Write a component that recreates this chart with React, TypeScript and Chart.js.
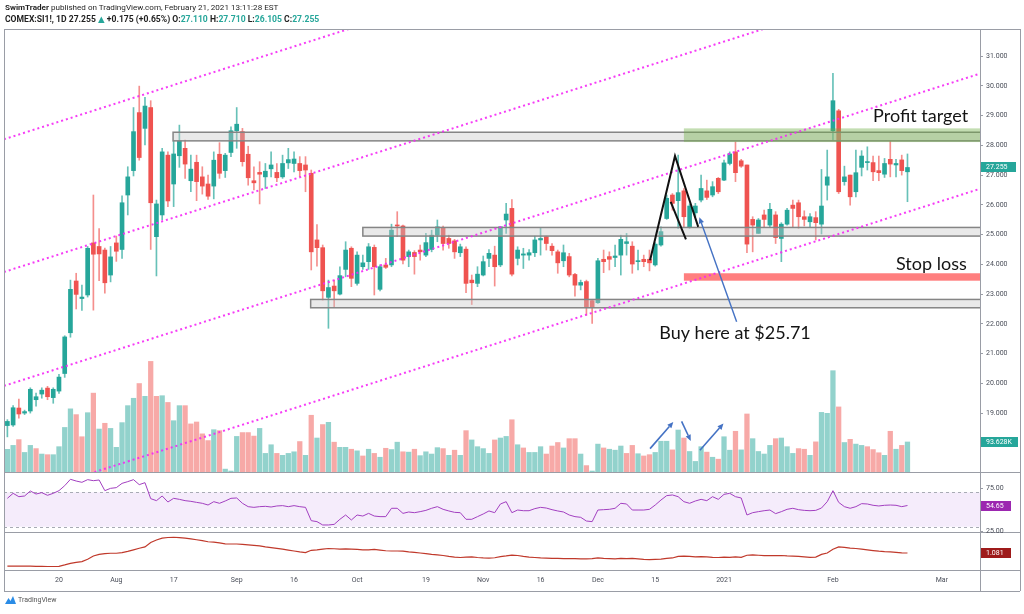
import React, { useEffect, useRef } from "react";
import { Chart, registerables } from "chart.js";

Chart.register(...registerables);

// ---------------- data (COMEX:SI1!, 1D) ----------------
const OPEN = [
  18.58, 18.60, 19.17, 19.00, 19.07, 19.45, 19.64, 19.84, 19.52, 19.74,
  20.33, 21.70, 23.44, 22.85, 22.97, 24.72, 24.60, 24.48, 23.64, 24.72,
  24.50, 26.33, 27.15, 29.10, 28.57, 29.27, 24.93, 25.66, 27.67, 26.70,
  27.65, 27.90, 26.81, 27.43, 26.94, 26.70, 26.63, 27.70, 27.15, 27.76,
  28.49, 28.46, 27.70, 26.81, 27.09, 26.94, 27.21, 27.09, 26.94, 27.41,
  27.39, 27.39, 27.34, 27.06, 24.82, 24.56, 22.89, 23.27, 23.00, 23.83,
  24.54, 23.36, 23.92, 24.09, 24.57, 23.16, 23.98, 23.98, 25.32, 25.29,
  24.26, 24.40, 24.48, 24.31, 24.50, 24.98, 25.24, 24.87, 24.79, 24.39,
  24.51, 23.47, 23.36, 23.64, 24.20, 24.31, 23.98, 25.49, 25.88, 24.20,
  24.31, 24.31, 24.39, 24.82, 24.93, 24.61, 24.42, 24.12, 24.26, 23.66,
  23.30, 23.42, 22.78, 22.71, 24.17, 24.26, 24.23, 24.31, 24.70, 24.61,
  24.09, 24.17, 24.17, 23.98, 24.65, 25.54, 26.33, 26.14, 26.47, 25.26,
  25.73, 26.16, 26.47, 26.33, 26.89, 26.83, 27.39, 27.78, 27.48, 27.34,
  25.51, 25.04, 25.66, 25.32, 25.66, 24.87, 25.35, 25.99, 26.07, 25.60,
  25.43, 25.57, 25.35, 26.66, 28.49, 29.16, 26.78, 27.00, 26.44, 27.26,
  27.42, 27.42, 27.15, 27.03, 27.53, 27.34, 27.51, 27.11,
];
const HIGH = [
  18.78, 19.25, 19.47, 19.10, 19.85, 19.67, 19.85, 19.90, 19.85, 20.30,
  21.60, 23.47, 23.70, 23.30, 24.60, 26.33, 25.20, 24.55, 24.60, 24.95,
  26.30, 27.28, 29.27, 29.99, 29.61, 29.50, 26.16, 27.90, 27.78, 28.15,
  28.68, 28.18, 27.67, 27.67, 27.28, 27.00, 27.78, 28.09, 27.73, 28.62,
  29.27, 28.57, 27.97, 27.28, 27.45, 27.39, 27.78, 27.39, 27.67, 27.90,
  27.78, 27.62, 27.62, 27.17, 25.34, 24.65, 23.47, 23.47, 23.92, 24.76,
  24.59, 24.42, 24.31, 24.70, 24.65, 23.98, 24.20, 25.35, 25.77, 25.32,
  24.48, 24.46, 24.65, 25.04, 25.15, 25.49, 25.29, 24.98, 24.84, 24.68,
  24.59, 23.64, 23.92, 24.28, 24.50, 24.61, 25.26, 26.05, 26.18, 24.59,
  24.54, 24.50, 24.95, 25.21, 24.95, 24.70, 24.48, 24.65, 24.37, 23.70,
  23.47, 23.47, 22.80, 24.20, 24.48, 24.42, 24.65, 24.98, 25.04, 24.76,
  24.48, 24.31, 24.48, 24.73, 25.26, 26.33, 26.38, 27.67, 26.55, 26.03,
  26.05, 27.00, 26.83, 26.78, 26.92, 27.50, 27.78, 28.12, 27.53, 27.34,
  25.60, 25.54, 25.82, 26.05, 25.77, 25.40, 25.88, 26.16, 26.16, 25.80,
  25.71, 25.77, 27.19, 27.84, 30.42, 29.21, 27.30, 27.00, 27.84, 27.82,
  27.95, 27.64, 27.64, 27.56, 28.15, 27.53, 27.67, 27.71,
];
const LOW = [
  18.20, 18.55, 18.83, 18.95, 19.00, 19.23, 19.50, 19.45, 19.33, 19.66,
  20.20, 21.55, 22.50, 22.45, 22.90, 22.46, 23.45, 23.03, 23.41, 24.10,
  24.20, 25.66, 26.97, 27.50, 28.01, 24.50, 23.61, 25.50, 25.94, 25.94,
  27.26, 26.89, 26.44, 26.14, 26.36, 26.18, 26.20, 26.89, 26.92, 27.62,
  27.90, 27.30, 26.66, 26.50, 26.03, 26.55, 26.94, 26.78, 26.89, 27.22,
  27.11, 26.94, 26.44, 23.81, 23.94, 22.80, 21.85, 22.57, 22.97, 23.58,
  23.25, 23.30, 23.83, 23.83, 22.97, 23.11, 23.86, 23.92, 24.93, 24.01,
  23.92, 23.67, 24.14, 24.26, 24.42, 24.76, 24.48, 24.54, 24.20, 24.26,
  23.05, 22.65, 23.25, 23.61, 23.92, 23.27, 23.92, 25.04, 23.61, 23.98,
  23.86, 24.14, 24.26, 24.31, 24.48, 24.31, 23.70, 23.92, 23.58, 22.93,
  23.14, 22.29, 22.01, 22.69, 23.72, 23.81, 23.92, 23.64, 24.31, 23.70,
  23.81, 23.92, 23.78, 23.94, 24.61, 25.51, 25.82, 25.21, 25.26, 25.21,
  25.60, 26.10, 26.18, 26.27, 26.38, 26.81, 27.34, 26.78, 27.26, 24.39,
  24.42, 25.04, 25.26, 25.26, 24.70, 24.09, 25.32, 25.26, 25.21, 25.29,
  25.26, 24.82, 25.02, 26.16, 28.18, 26.38, 26.66, 25.99, 26.27, 26.97,
  27.17, 26.81, 26.81, 26.92, 26.94, 26.94, 27.00, 26.105,
];
const CLOSE = [
  18.72, 19.18, 18.97, 19.05, 19.80, 19.55, 19.77, 19.55, 19.80, 20.21,
  21.56, 23.16, 22.99, 22.90, 24.54, 24.34, 24.35, 23.38, 24.25, 24.44,
  26.07, 26.94, 28.46, 27.59, 29.32, 26.07, 26.03, 27.78, 26.13, 27.71,
  28.15, 27.37, 27.20, 26.78, 26.63, 26.29, 27.50, 27.06, 27.67, 28.49,
  28.71, 27.45, 26.91, 26.74, 27.03, 27.13, 27.34, 26.91, 27.39, 27.52,
  27.54, 27.15, 27.17, 24.42, 24.56, 23.11, 23.22, 23.11, 23.62, 24.48,
  23.53, 24.31, 24.05, 24.59, 23.92, 23.92, 23.90, 25.15, 25.29, 24.14,
  24.42, 24.26, 24.42, 24.73, 24.98, 25.26, 24.70, 24.70, 24.42, 24.59,
  23.36, 23.38, 23.67, 24.09, 24.37, 23.92, 25.26, 25.69, 23.67, 24.48,
  24.35, 24.39, 24.82, 24.87, 24.70, 24.46, 24.05, 24.39, 23.64, 23.30,
  23.39, 22.55, 22.55, 24.12, 24.09, 24.17, 24.28, 24.84, 24.76, 24.01,
  24.12, 24.09, 24.05, 24.68, 25.10, 26.22, 26.05, 26.41, 25.60, 25.96,
  25.96, 26.55, 26.25, 26.61, 26.44, 27.41, 27.71, 27.08, 27.30, 24.68,
  25.32, 25.49, 25.51, 25.85, 24.90, 25.35, 25.82, 25.88, 25.60, 25.51,
  25.60, 25.40, 25.96, 26.94, 29.50, 26.44, 26.94, 26.27, 27.08, 27.64,
  27.45, 27.11, 27.08, 27.39, 27.37, 27.39, 27.15, 27.255,
];
// volume, thousands of contracts
const VOLUME_K = [
  70.7, 83, 101, 61, 83, 73, 56, 54, 54, 79,
  139, 197, 179, 110, 185, 246, 134, 152, 136, 77,
  154, 207, 230, 276, 236, 345, 236, 238, 217, 160,
  207, 207, 150, 156, 119, 98, 132, 129, 9, 3,
  111, 123, 123, 112, 136, 58, 85, 58, 52, 58,
  63, 95, 52, 177, 106, 148, 155, 93, 77, 77,
  71, 66, 50, 71, 58, 46, 74, 70, 93, 63,
  62, 71, 51, 63, 56, 76, 73, 52, 68, 52,
  129, 100, 79, 73, 58, 100, 106, 111, 163, 85,
  75, 61, 61, 79, 56, 81, 92, 75, 104, 104,
  56, 20, 3, 87, 75, 71, 68, 81, 58, 83,
  57, 50, 54, 61, 96, 96, 69, 131, 106, 64,
  33, 79, 62, 46, 40, 110, 68, 127, 69, 181,
  104, 64, 56, 83, 104, 106, 79, 58, 73, 71,
  52, 94, 186, 183, 316, 203, 92, 102, 87, 83,
  79, 70, 60, 52, 127, 71, 83, 93.628,
];
const RSI = [
  63.0, 68.8, 64.9, 65.7, 71.5, 68.0, 69.6, 66.5, 68.8, 71.9,
  77.7, 85.1, 83.1, 81.6, 84.7, 83.5, 84.3, 71.9, 74.6, 75.4,
  80.4, 82.4, 84.7, 78.9, 81.2, 62.6, 60.3, 65.7, 58.7, 63.0,
  61.8, 60.3, 59.5, 58.3, 57.2, 55.2, 59.1, 57.2, 59.9, 63.0,
  63.4, 57.2, 53.3, 52.5, 53.3, 53.7, 52.9, 54.1, 54.5, 53.3,
  54.5, 53.3, 52.5, 37.0, 35.9, 32.0, 32.0, 32.7, 38.6, 43.6,
  37.8, 43.6, 42.4, 45.5, 42.4, 41.7, 41.7, 51.4, 51.4, 45.5,
  47.1, 46.3, 47.5, 49.0, 51.4, 53.3, 50.2, 48.3, 46.7, 46.3,
  38.6, 38.6, 41.7, 44.8, 48.3, 46.3, 56.4, 59.1, 46.3, 49.4,
  48.6, 48.6, 51.0, 52.5, 51.7, 49.8, 48.3, 47.1, 43.6, 41.7,
  40.9, 36.6, 35.9, 49.4, 49.8, 50.2, 51.4, 57.2, 56.4, 49.4,
  49.4, 49.4, 50.2, 55.2, 61.0, 66.1, 66.9, 64.9, 59.1, 57.2,
  59.9, 61.8, 60.3, 64.9, 61.8, 67.6, 68.8, 64.9, 63.4, 43.6,
  46.3, 47.5, 48.6, 49.4, 45.2, 47.5, 50.2, 51.4, 49.8, 49.0,
  48.6, 49.0, 51.7, 59.1, 71.9, 58.3, 53.3, 51.4, 53.3, 56.8,
  56.4, 54.9, 54.1, 54.9, 55.2, 54.9, 53.3, 54.65,
];
const ATR = [
  0.50, 0.50, 0.50, 0.50, 0.50, 0.49, 0.49, 0.48, 0.48, 0.49,
  0.55, 0.62, 0.66, 0.70, 0.80, 0.95, 1.02, 1.05, 1.07, 1.07,
  1.10, 1.15, 1.22, 1.29, 1.35, 1.55, 1.66, 1.74, 1.77, 1.78,
  1.76, 1.74, 1.71, 1.67, 1.63, 1.58, 1.56, 1.53, 1.49, 1.48,
  1.48, 1.46, 1.44, 1.42, 1.40, 1.35, 1.32, 1.29, 1.25, 1.21,
  1.17, 1.13, 1.10, 1.20, 1.22, 1.25, 1.28, 1.27, 1.25, 1.26,
  1.25, 1.24, 1.22, 1.22, 1.24, 1.21, 1.18, 1.17, 1.17, 1.16,
  1.13, 1.11, 1.08, 1.05, 1.02, 1.00, 0.97, 0.93, 0.90, 0.88,
  0.90, 0.91, 0.88, 0.86, 0.85, 0.87, 0.92, 0.95, 0.99, 0.97,
  0.93, 0.90, 0.88, 0.86, 0.85, 0.84, 0.84, 0.83, 0.83, 0.83,
  0.82, 0.82, 0.83, 0.86, 0.84, 0.83, 0.82, 0.84, 0.83, 0.84,
  0.82, 0.80, 0.79, 0.80, 0.81, 0.84, 0.86, 0.93, 0.94, 0.93,
  0.91, 0.92, 0.91, 0.89, 0.88, 0.90, 0.89, 0.91, 0.89, 0.98,
  1.00, 0.98, 0.96, 0.96, 0.96, 0.97, 0.95, 0.94, 0.93, 0.91,
  0.89, 0.90, 1.02, 1.08, 1.25, 1.35, 1.33, 1.30, 1.28, 1.25,
  1.22, 1.19, 1.16, 1.14, 1.13, 1.11, 1.09, 1.081,
];

// axis ticks
const X_TICK_INDEX = [9, 19, 29, 40, 50, 61, 73, 83, 93, 103, 113, 125, 144, 163];
const X_TICK_LABELS = ["20", "Aug", "17", "Sep", "16", "Oct", "19", "Nov", "16", "Dec", "15", "2021", "Feb", "Mar"];
const PRICE_TICKS = [19, 20, 21, 22, 23, 24, 25, 26, 27, 28, 29, 30, 31];
const RSI_TICKS = [75, 25];
const RSI_BAND = [70, 30];

// visible value ranges of each pane
const X_VIEW = [-0.59, 169.65];
const PRICE_VIEW = [17.02, 31.91];
const VOLUME_VIEW_K = [0, 1382];
const RSI_VIEW = [23.84, 93.6];
const ATR_VIEW = [0.325, 2.014];

// drawings (bar index / price)
const CHANNEL_AT_FIRST = [28.24, 23.78, 19.95, 16.08];
const CHANNEL_AT_LAST = [37.92, 33.46, 29.63, 25.76];
const GRAY_ZONE_FROM = [28.9, 62.0, 52.9];
const GRAY_ZONE_TOP = [28.44, 25.24, 22.82];
const GRAY_ZONE_BOTTOM = [28.15, 24.95, 22.54];
const TARGET_ZONE = [118.0, 28.57, 28.11];
const STOP_ZONE = [118.0, 23.7, 23.45];
const PATTERN_BARS = [112.1, 116.45, 120.5];
const PATTERN_PRICES = [24.14, 27.64, 25.26];
const PATTERN_INNER_BARS = [115.7, 118.36];
const PATTERN_INNER_PRICES = [26.1, 24.84];
const BUY_ARROW_BARS = [127.2, 120.7];
const BUY_ARROW_PRICES = [22.07, 25.58];
const VOL_ARROW_FROM_BAR = [112.1, 117.6, 120.8];
const VOL_ARROW_FROM_K = [73, 158, 68];
const VOL_ARROW_TO_BAR = [116.15, 119.2, 124.9];
const VOL_ARROW_TO_K = [156, 97, 151];
const NOTE_TEXT = ["Profit target", "Stop loss", "Buy here at $25.71"];
const NOTE_BAR = [151.0, 155.0, 113.7];
const NOTE_PRICE = [28.79, 23.81, 21.48];

// ---------------- layout / style ----------------
const PANE_HEIGHTS = [443, 60, 38];
const UP = "#26a69a";
const DOWN = "#ef5350";
const FRAME = "#9a9da6";
const AXIS_TEXT = "#4a4e59";
const AXIS_FONT = "7px Roboto";

function fullRange(view: number[], k: number) {
  const total = PANE_HEIGHTS.reduce((s, h) => s + h, 0);
  const top = PANE_HEIGHTS.slice(0, k).reduce((s, h) => s + h, 0);
  const h = PANE_HEIGHTS[k];
  const u = (view[1] - view[0]) / h;
  return { min: view[0] - (total - top - h) * u, max: view[1] + top * u };
}

function drawArrow(ctx: any, x1: number, y1: number, x2: number, y2: number, color: string, width: number, head: number) {
  const ang = Math.atan2(y2 - y1, x2 - x1);
  const bx = x2 - head * Math.cos(ang);
  const by = y2 - head * Math.sin(ang);
  ctx.save();
  ctx.strokeStyle = color;
  ctx.fillStyle = color;
  ctx.lineWidth = width;
  ctx.setLineDash([]);
  ctx.beginPath();
  ctx.moveTo(x1, y1);
  ctx.lineTo(bx, by);
  ctx.stroke();
  ctx.beginPath();
  ctx.moveTo(x2, y2);
  ctx.lineTo(bx + head * 0.45 * Math.sin(ang), by - head * 0.45 * Math.cos(ang));
  ctx.lineTo(bx - head * 0.45 * Math.sin(ang), by + head * 0.45 * Math.cos(ang));
  ctx.closePath();
  ctx.fill();
  ctx.restore();
}

function badge(ctx: any, x: number, y: number, w: number, color: string, text: string) {
  ctx.save();
  ctx.fillStyle = color;
  ctx.fillRect(x, Math.round(y) - 5, w, 10);
  ctx.fillStyle = "#ffffff";
  ctx.font = AXIS_FONT;
  ctx.textAlign = "left";
  ctx.textBaseline = "middle";
  ctx.fillText(text, x + 5, Math.round(y) + 0.5);
  ctx.restore();
}

const overlayPlugin = {
  id: "tvOverlay",
  beforeDatasetsDraw(chart: any) {
    const { ctx, chartArea: a, scales: s } = chart;
    const yr = s.yRsi;
    const t = yr.getPixelForValue(RSI_BAND[0]);
    const b = yr.getPixelForValue(RSI_BAND[1]);
    ctx.save();
    ctx.fillStyle = "rgba(176, 96, 226, 0.12)";
    ctx.fillRect(a.left, t, a.right - a.left, b - t);
    ctx.strokeStyle = "#a8abb4";
    ctx.lineWidth = 1;
    ctx.setLineDash([3, 3]);
    for (const v of RSI_BAND) {
      const y = Math.round(yr.getPixelForValue(v)) + 0.5;
      ctx.beginPath();
      ctx.moveTo(a.left, y);
      ctx.lineTo(a.right, y);
      ctx.stroke();
    }
    ctx.restore();
  },
  afterDatasetsDraw(chart: any) {
    const { ctx, chartArea: a, scales: s } = chart;
    const X = (v: number) => s.x.getPixelForValue(v);
    const P = (v: number) => s.y.getPixelForValue(v);
    const V = (v: number) => s.yVol.getPixelForValue(v);
    const mainBottom = a.top + PANE_HEIGHTS[0];
    ctx.save();
    ctx.beginPath();
    ctx.rect(a.left, a.top, a.right - a.left, mainBottom - a.top);
    ctx.clip();

    // support / resistance zones
    for (let k = 0; k < GRAY_ZONE_FROM.length; k++) {
      const x0 = X(GRAY_ZONE_FROM[k]);
      const y0 = P(GRAY_ZONE_TOP[k]);
      const y1 = P(GRAY_ZONE_BOTTOM[k]);
      ctx.fillStyle = "rgba(200, 200, 200, 0.4)";
      ctx.fillRect(x0, y0, a.right - x0 + 5, y1 - y0);
      ctx.strokeStyle = "#858585";
      ctx.lineWidth = 1.5;
      ctx.strokeRect(x0, y0, a.right - x0 + 10, y1 - y0);
    }
    // profit target zone
    {
      const x0 = X(TARGET_ZONE[0]);
      const y0 = P(TARGET_ZONE[1]);
      const y1 = P(TARGET_ZONE[2]);
      ctx.fillStyle = "rgba(112, 173, 71, 0.42)";
      ctx.fillRect(x0, y0, a.right - x0, y1 - y0);
    }
    // stop loss zone
    {
      const x0 = X(STOP_ZONE[0]);
      const y0 = P(STOP_ZONE[1]);
      const y1 = P(STOP_ZONE[2]);
      ctx.fillStyle = "rgba(255, 82, 82, 0.74)";
      ctx.fillRect(x0, y0, a.right - x0, y1 - y0);
    }
    // parallel channel
    const last = CLOSE.length - 1;
    ctx.strokeStyle = "rgba(245, 40, 245, 0.9)";
    ctx.lineWidth = 2;
    ctx.setLineDash([2, 3]);
    for (let k = 0; k < CHANNEL_AT_FIRST.length; k++) {
      const slope = (CHANNEL_AT_LAST[k] - CHANNEL_AT_FIRST[k]) / last;
      const xa = X_VIEW[0];
      const xb = X_VIEW[1];
      ctx.beginPath();
      ctx.moveTo(X(xa), P(CHANNEL_AT_FIRST[k] + slope * xa));
      ctx.lineTo(X(xb), P(CHANNEL_AT_FIRST[k] + slope * xb));
      ctx.stroke();
    }
    ctx.setLineDash([]);
    // pattern lines
    ctx.strokeStyle = "#111111";
    ctx.lineWidth = 2;
    ctx.beginPath();
    PATTERN_BARS.forEach((b, k) => {
      if (k === 0) ctx.moveTo(X(b), P(PATTERN_PRICES[k]));
      else ctx.lineTo(X(b), P(PATTERN_PRICES[k]));
    });
    ctx.stroke();
    ctx.beginPath();
    ctx.moveTo(X(PATTERN_INNER_BARS[0]), P(PATTERN_INNER_PRICES[0]));
    ctx.lineTo(X(PATTERN_INNER_BARS[1]), P(PATTERN_INNER_PRICES[1]));
    ctx.stroke();
    ctx.restore();

    // arrows
    drawArrow(ctx, X(BUY_ARROW_BARS[0]), P(BUY_ARROW_PRICES[0]), X(BUY_ARROW_BARS[1]), P(BUY_ARROW_PRICES[1]), "#4472c4", 1.4, 6);
    for (let k = 0; k < VOL_ARROW_FROM_BAR.length; k++) {
      drawArrow(ctx, X(VOL_ARROW_FROM_BAR[k]), V(VOL_ARROW_FROM_K[k]), X(VOL_ARROW_TO_BAR[k]), V(VOL_ARROW_TO_K[k]), "#4472c4", 1.6, 6);
    }

    // notes
    ctx.save();
    ctx.fillStyle = "#141414";
    ctx.font = "18px Lato";
    ctx.textAlign = "left";
    ctx.textBaseline = "alphabetic";
    NOTE_TEXT.forEach((t, k) => ctx.fillText(t, X(NOTE_BAR[k]), P(NOTE_PRICE[k])));
    ctx.restore();
  },
  afterDraw(chart: any) {
    const { ctx, chartArea: a, scales: s, width } = chart;
    const right = width - 4;
    const mainBottom = a.top + PANE_HEIGHTS[0];
    const rsiBottom = mainBottom + PANE_HEIGHTS[1];
    const xAxisBottom = s.x.bottom;
    ctx.save();
    ctx.strokeStyle = FRAME;
    ctx.lineWidth = 1;
    const hLine = (y: number) => {
      ctx.beginPath();
      ctx.moveTo(a.left, Math.round(y) + 0.5);
      ctx.lineTo(right, Math.round(y) + 0.5);
      ctx.stroke();
    };
    const vLine = (x: number) => {
      ctx.beginPath();
      ctx.moveTo(Math.round(x) + 0.5, a.top);
      ctx.lineTo(Math.round(x) + 0.5, xAxisBottom);
      ctx.stroke();
    };
    hLine(a.top);
    hLine(mainBottom);
    hLine(rsiBottom);
    hLine(a.bottom);
    hLine(xAxisBottom);
    vLine(a.left);
    vLine(a.right);
    vLine(right);

    // RSI axis labels
    ctx.font = AXIS_FONT;
    ctx.fillStyle = AXIS_TEXT;
    ctx.textAlign = "left";
    ctx.textBaseline = "middle";
    for (const v of RSI_TICKS) {
      const y = Math.round(s.yRsi.getPixelForValue(v)) + 0.5;
      ctx.beginPath();
      ctx.moveTo(a.right, y);
      ctx.lineTo(a.right + 3, y);
      ctx.stroke();
      ctx.fillText(v.toFixed(2), a.right + 6, y);
    }
    ctx.restore();

    const lastI = CLOSE.length - 1;
    badge(ctx, a.right + 1, s.y.getPixelForValue(CLOSE[lastI]), 35, UP, CLOSE[lastI].toFixed(3));
    badge(ctx, a.right + 1, s.yVol.getPixelForValue(VOLUME_K[lastI]), 37, UP, VOLUME_K[lastI].toFixed(3) + "K");
    badge(ctx, a.right + 1, s.yRsi.getPixelForValue(RSI[lastI]), 30, "#9c27b0", RSI[lastI].toFixed(2));
    badge(ctx, a.right + 1, s.yAtr.getPixelForValue(ATR[lastI]), 30, "#9e1a1a", ATR[lastI].toFixed(3));
  },
};

export default function App() {
  const canvasRef = useRef<HTMLCanvasElement | null>(null);

  useEffect(() => {
    const canvas = canvasRef.current;
    if (!canvas) return;
    const bars = CLOSE.map((_, i) => i);
    const isUp = (i: number) => CLOSE[i] >= OPEN[i];
    const volUp = (i: number) => (i === 0 ? isUp(0) : CLOSE[i] >= CLOSE[i - 1]);

    const priceR = fullRange(PRICE_VIEW, 0);
    const volR = fullRange(VOLUME_VIEW_K, 0);
    const rsiR = fullRange(RSI_VIEW, 1);
    const atrR = fullRange(ATR_VIEW, 2);

    const chart = new Chart(canvas, {
      type: "bar",
      data: {
        datasets: [
          {
            type: "bar",
            label: "Volume",
            data: bars.map((i) => ({ x: i, y: VOLUME_K[i] })),
            yAxisID: "yVol",
            backgroundColor: bars.map((i) => (volUp(i) ? "rgba(38,166,154,0.5)" : "rgba(239,83,80,0.5)")),
            barThickness: 4.6,
            grouped: false,
            order: 5,
          },
          {
            type: "bar",
            label: "Wick",
            data: bars.map((i) => ({ x: i, y: [LOW[i], HIGH[i]] })),
            yAxisID: "y",
            backgroundColor: bars.map((i) => (isUp(i) ? "rgba(38,166,154,0.7)" : "rgba(239,83,80,0.65)")),
            barThickness: 1,
            grouped: false,
            order: 4,
          },
          {
            type: "bar",
            label: "Body",
            data: bars.map((i) => ({ x: i, y: [OPEN[i], CLOSE[i]] })),
            yAxisID: "y",
            backgroundColor: bars.map((i) => (isUp(i) ? UP : DOWN)),
            barThickness: 4,
            minBarLength: 1,
            grouped: false,
            order: 3,
          },
          {
            type: "line",
            label: "RSI",
            data: bars.map((i) => ({ x: i, y: RSI[i] })),
            yAxisID: "yRsi",
            borderColor: "#a23fc0",
            borderWidth: 1,
            pointRadius: 0,
            tension: 0,
            order: 2,
          },
          {
            type: "line",
            label: "ATR",
            data: bars.map((i) => ({ x: i, y: ATR[i] })),
            yAxisID: "yAtr",
            borderColor: "#c0392b",
            borderWidth: 1.2,
            pointRadius: 0,
            tension: 0,
            order: 2,
          },
        ],
      },
      options: {
        responsive: false,
        animation: false,
        events: [],
        layout: { padding: { left: 4, right: 4, top: 29, bottom: 23 } },
        plugins: { legend: { display: false }, tooltip: { enabled: false }, title: { display: false } },
        scales: {
          x: {
            type: "linear",
            position: "bottom",
            min: X_VIEW[0],
            max: X_VIEW[1],
            offset: false,
            grid: { display: false, drawTicks: false },
            border: { display: false },
            afterBuildTicks: (sc: any) => {
              sc.ticks = X_TICK_INDEX.map((v) => ({ value: v }));
            },
            afterFit: (sc: any) => {
              sc.height = 21;
            },
            ticks: {
              autoSkip: false,
              maxRotation: 0,
              minRotation: 0,
              padding: 6,
              color: AXIS_TEXT,
              font: { family: "Roboto", size: 7 },
              callback: (v: any) => {
                const k = X_TICK_INDEX.indexOf(Number(v));
                return k >= 0 ? X_TICK_LABELS[k] : "";
              },
            },
          },
          y: {
            type: "linear",
            position: "right",
            min: priceR.min,
            max: priceR.max,
            grid: { display: true, drawOnChartArea: false, drawTicks: true, tickLength: 3, color: FRAME },
            border: { display: false },
            afterBuildTicks: (sc: any) => {
              sc.ticks = PRICE_TICKS.map((v) => ({ value: v }));
            },
            afterFit: (sc: any) => {
              sc.width = 40;
            },
            ticks: {
              padding: 3,
              color: AXIS_TEXT,
              font: { family: "Roboto", size: 7 },
              callback: (v: any) => Number(v).toFixed(3),
            },
          },
          yVol: { type: "linear", position: "left", display: false, min: volR.min, max: volR.max },
          yRsi: { type: "linear", position: "left", display: false, min: rsiR.min, max: rsiR.max },
          yAtr: { type: "linear", position: "left", display: false, min: atrR.min, max: atrR.max },
        },
      },
      plugins: [overlayPlugin],
    } as any);

    return () => chart.destroy();
  }, []);

  const hdr: React.CSSProperties = {
    position: "absolute",
    left: 5,
    whiteSpace: "nowrap",
    fontFamily: "Roboto, 'DejaVu Sans', sans-serif",
    lineHeight: "10px",
    color: "#1f1f1f",
  };
  const teal: React.CSSProperties = { color: UP };

  return (
    <div style={{ position: "fixed", left: 0, top: 0, width: 1024, height: 614, background: "#ffffff", overflow: "hidden" }}>
      <canvas ref={canvasRef} width={1024} height={614} style={{ position: "absolute", left: 0, top: 0, width: 1024, height: 614 }} />
      <div style={{ ...hdr, top: 2, fontSize: 8.1 }}>
        <b>SwimTrader</b> published on TradingView.com, February 21, 2021 13:11:28 EST
      </div>
      <div style={{ ...hdr, top: 14, fontSize: 8.6, fontWeight: 700 }}>
        COMEX:SI1!, 1D 27.255 <span style={teal}>▲</span> +0.175 (+0.65%) O:<span style={teal}>27.110</span> H:<span style={teal}>27.710</span> L:<span style={teal}>26.105</span> C:<span style={teal}>27.255</span>
      </div>
      <div style={{ position: "absolute", left: 5, top: 596, display: "flex", alignItems: "center", gap: 2 }}>
        <svg width="11" height="8" viewBox="0 0 11 8">
          <path d="M0 8 L3.5 2 L5.5 5 L8 0 L11 8 Z" fill="#2a8ce6" />
        </svg>
        <span style={{ fontFamily: "Roboto, sans-serif", fontSize: 7, color: "#555" }}>TradingView</span>
      </div>
    </div>
  );
}
